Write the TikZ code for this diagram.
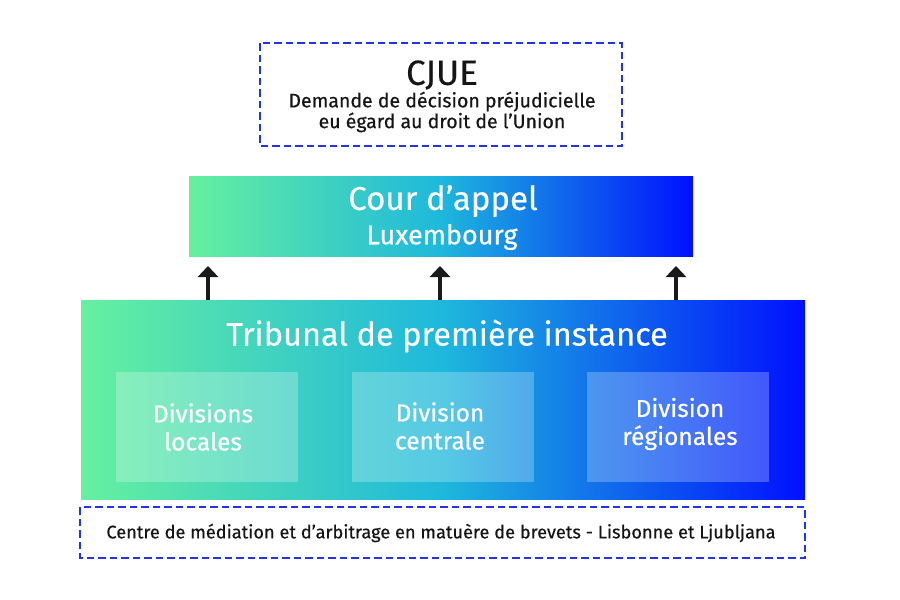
\documentclass[tikz,border=0pt]{standalone}
\usepackage{fontspec}
\setmainfont{Fira Sans}
\newfontfamily\medfont{Fira Sans}[FakeBold=0.5]
\newfontfamily\regfont{Fira Sans}[FakeBold=0.2]
\usetikzlibrary{arrows.meta}
\definecolor{gA}{HTML}{66F0A0}
\definecolor{gB}{HTML}{1EB8DC}
\definecolor{gC}{HTML}{0010FF}
\definecolor{dashblue}{HTML}{2233EE}
\definecolor{arr}{HTML}{1A1A1A}
\definecolor{txt}{HTML}{151515}
\tikzset{
  dashbox/.style={draw=dashblue, line width=2.2pt, dash pattern=on 7.5pt off 4pt},
  gradbox/.style={left color=gA, right color=gC, middle color=gB},
  subbox/.style={fill=white, fill opacity=0.25, draw=none},
  uparrow/.style={draw=arr, line width=4pt, -{Triangle[width=20pt,length=11pt]}},
  wtext/.style={text=white, align=center},
  dtext/.style={text=txt, align=center},
}
\begin{document}
\begin{tikzpicture}[x=1pt,y=-1pt]
\useasboundingbox (0,0) rectangle (900,600);
% top dashed box
\draw[dashbox] (260,43) rectangle (622,146);
\node[dtext, font=\regfont\fontsize{35}{38}\selectfont] (cjue) at (442,75) {CJUE};
\node[dtext, font=\medfont\fontsize{19.5}{19}\selectfont] (cjuetxt) at (442,112) {Demande de décision préjudicielle\\eu égard au droit de l’Union};
% Cour d'appel
\shade[gradbox] (189,176) rectangle (693,256);
\node[wtext, font=\regfont\fontsize{33}{36}\selectfont] (courtitle) at (443,201) {Cour d’appel};
\node[wtext, font=\medfont\fontsize{27}{30}\selectfont] (lux) at (442,237) {Luxembourg};
% Tribunal
\shade[gradbox] (81,300) rectangle (805,499);
\node[wtext, font=\regfont\fontsize{32.5}{36}\selectfont] (trib) at (447,336) {Tribunal de première instance};
\coordinate (t1) at (208,300);
\coordinate (t2) at (440,300);
\coordinate (t3) at (676,300);
\coordinate (c1) at (208,266);
\coordinate (c2) at (440,266);
\coordinate (c3) at (676,266);
\draw[uparrow] (t1) -- (c1);
\draw[uparrow] (t2) -- (c2);
\draw[uparrow] (t3) -- (c3);
% sub boxes
\fill[subbox] (116,372) rectangle (298,482);
\fill[subbox] (352,372) rectangle (534,482);
\fill[subbox] (587,372) rectangle (769,482);
\node[wtext, font=\medfont\fontsize{24.5}{28}\selectfont] (d1) at (203,427) {Divisions\\locales};
\node[wtext, font=\medfont\fontsize{24.5}{28}\selectfont] (d2) at (440,426) {Division\\centrale};
\node[wtext, font=\medfont\fontsize{24.5}{28}\selectfont] (d3) at (680,424) {Division\\régionales};
% bottom dashed box
\draw[dashbox] (80,507) rectangle (805,558);
\node[dtext, font=\medfont\fontsize{18.2}{20}\selectfont] (centre) at (441,533) {Centre de médiation et d’arbitrage en matuère de brevets - Lisbonne et Ljubljana};
\end{tikzpicture}
\end{document}
